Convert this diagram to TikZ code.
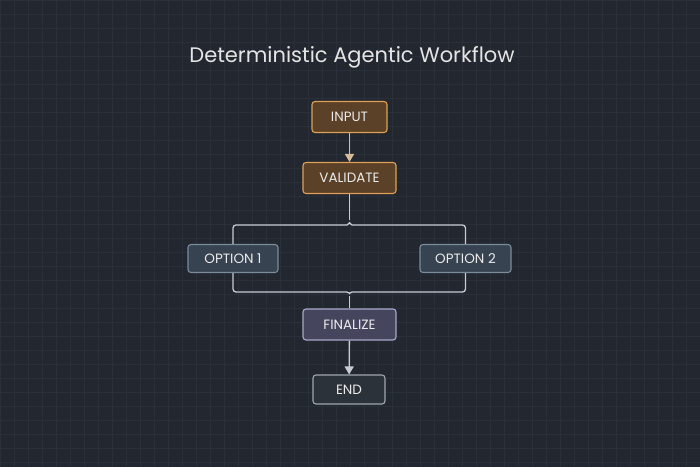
\documentclass[tikz,border=0pt]{standalone}
\usepackage{fontspec}
\setmainfont{Poppins}
\usetikzlibrary{arrows.meta}
\definecolor{bg}{HTML}{232830}
\definecolor{gridc}{HTML}{29303A}
\definecolor{orfill}{HTML}{5A4128}
\definecolor{ordraw}{HTML}{E0A055}
\definecolor{grfill}{HTML}{374350}
\definecolor{grdraw}{HTML}{7A8C9C}
\definecolor{pufill}{HTML}{45465E}
\definecolor{pudraw}{HTML}{A8A8C8}
\definecolor{enfill}{HTML}{2C323A}
\definecolor{endraw}{HTML}{A0A6AE}
\definecolor{linec}{HTML}{C8CCD2}
\definecolor{arrc}{HTML}{D8B890}
\tikzset{
 box/.style={rounded corners=3pt, line width=1.1pt, minimum height=31pt, text=white!92!black, font=\fontsize{13.5}{16}\selectfont, inner sep=0pt},
 orange/.style={box, fill=orfill, draw=ordraw},
 opt/.style={box, fill=grfill, draw=grdraw, minimum height=28pt},
 fin/.style={box, fill=pufill, draw=pudraw},
 endb/.style={box, fill=enfill, draw=endraw, minimum height=29pt},
 conn/.style={draw=linec, line width=1.3pt},
}
\begin{document}
\begin{tikzpicture}[x=1pt,y=-1pt]
\useasboundingbox (0,0) rectangle (700,467);
\fill[bg] (0,0) rectangle (700,467);
\foreach \i in {0,14,...,700} \draw[gridc, line width=0.4pt] (\i,0) -- (\i,467);
\foreach \j in {0,14,...,467} \draw[gridc, line width=0.4pt] (0,\j) -- (700,\j);
\node[text=white!90!black, font=\fontsize{21}{25}\selectfont] (title) at (352,57) {Deterministic Agentic Workflow};
\node[orange, minimum width=75pt] (in) at (349.5,117) {INPUT};
\node[orange, minimum width=93pt] (val) at (349.5,178) {VALIDATE};
\node[opt, minimum width=90pt] (o1) at (233,258.5) {OPTION 1};
\node[opt, minimum width=91pt] (o2) at (465.5,258.5) {OPTION 2};
\node[fin, minimum width=93pt] (fin) at (349.5,324.5) {FINALIZE};
\node[endb, minimum width=72pt] (end) at (349,389.5) {END};
\draw[conn, draw=arrc!80!linec, -{Triangle[length=8pt,width=9pt,fill=arrc]}] (in) -- (val);
\coordinate (t) at (349.5,220);
\coordinate (b) at (349.5,296);
\draw[conn] (val) -- (t);
\draw[conn, rounded corners=3pt] (o1.north) -- (233,225) -- (344,225) to[out=0,in=-90] (t) to[out=-90,in=180] (355,225) -- (465.5,225) -- (o2.north);
\draw[conn, rounded corners=3pt] (o1.south) -- (233,292) -- (344,292) to[out=0,in=90] (b) to[out=90,in=180] (355,292) -- (465.5,292) -- (o2.south);
\draw[conn] (b) -- (fin);
\draw[conn, -{Triangle[length=8pt,width=9pt]}] (fin) -- (end);
\end{tikzpicture}
\end{document}
